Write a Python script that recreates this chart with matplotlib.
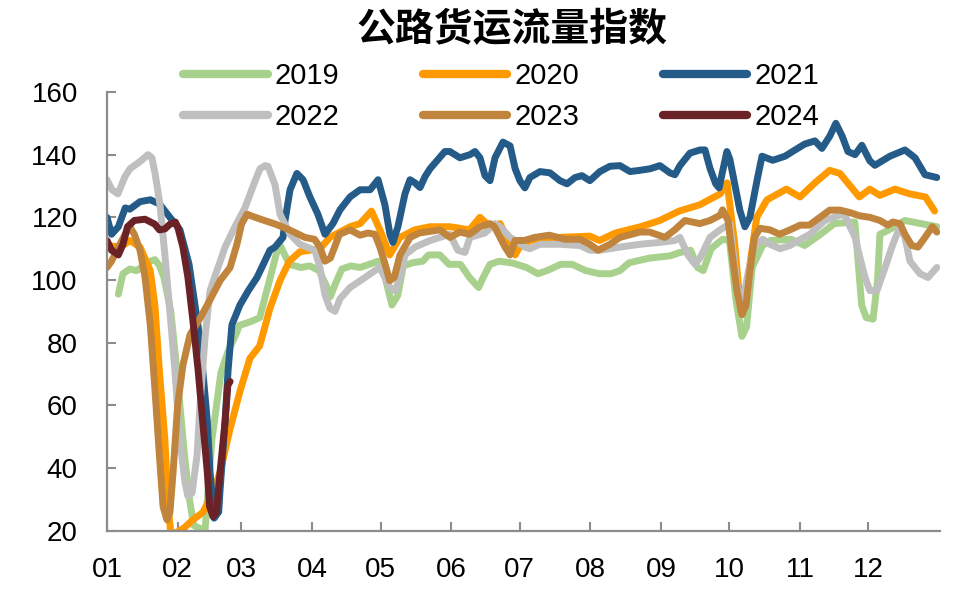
import matplotlib
matplotlib.use("Agg")
import matplotlib.pyplot as plt

plt.rcParams['font.family'] = ['Liberation Sans', 'DejaVu Sans']

title = "公路货运流量指数"
month_labels = ["01", "02", "03", "04", "05", "06", "07", "08", "09", "10", "11", "12"]
month_days = [1, 32, 60, 91, 121, 152, 182, 213, 244, 274, 305, 335]
y_ticks = [20, 40, 60, 80, 100, 120, 140, 160]

days_2019 = [6, 8, 11, 14, 20, 22, 24, 26, 29, 31, 33, 35, 37, 39, 41, 44, 47, 51, 54, 58,
             59, 64, 68, 72.5, 75.5, 77, 79, 81, 86, 90, 94, 97, 99, 101, 104, 108, 112, 116, 120, 123,
             126, 128.5, 131, 135, 139.5, 142, 147, 151, 156, 160, 164, 166, 169, 173, 179, 185, 190, 194, 200, 205,
             211, 217, 222, 226, 230, 239, 248, 252, 257, 260, 262.5, 266, 271, 274, 277, 279.5, 281.5, 284, 288.5, 292,
             301, 307, 314, 320, 329, 330, 332, 334, 337, 339, 340, 344, 351, 358, 365]
vals_2019 = [95.5, 102, 103.5, 103, 106, 106.5, 104.6, 100.8, 90, 76, 60, 44, 31, 21.7, 21, 20, 49, 70.5, 77, 83.4,
             85.5, 86.7, 88, 100.5, 109, 111, 108, 105, 104, 104.5, 103, 98.5, 94.7, 98.5, 103.5, 104.5, 104, 105, 106, 100.8,
             92, 95, 104.5, 105.5, 106, 108, 108, 105, 105, 100.8, 97.6, 100.8, 105, 106, 105.4, 104, 102, 103, 105, 105,
             103, 102, 102, 103, 105.5, 107, 107.7, 108.7, 109.5, 104, 103, 110, 113, 112.6, 93, 82, 85, 104, 111, 112.6,
             113, 111, 114.6, 118, 118.5, 110, 92, 88, 87.5, 100, 114.6, 116, 119, 118, 117]

days_2020 = [1, 7, 11, 15.5, 20, 22, 24, 26.4, 27.8, 29, 31.7, 35, 38.7, 43, 47.5, 50.6, 55, 59.3, 63.7, 68,
             72.5, 77, 81, 85.6, 94.4, 98.8, 107.6, 112, 117, 120.7, 125, 129.5, 136, 142.7, 151.4, 160, 164.6, 169, 173.4, 175.6,
             177.8, 180, 182, 186.5, 199.7, 212.8, 217, 224, 235, 243.5, 252, 261, 270, 273, 276.4, 279, 282, 286, 290.5, 299,
             305, 311.5, 318, 322.5, 327, 331, 335.6, 340, 346.6, 353, 360, 364]
vals_2020 = [111, 110.5, 112.6, 110.5, 103, 92, 71, 49, 28, 19, 19.5, 21, 23.5, 25.8, 32, 38.7, 52.5, 64.4, 75, 79,
             91, 100, 106, 109, 110, 113.6, 117, 118, 122, 116, 108, 113.6, 116, 117, 117, 116, 120, 117, 118, 114.6,
             110.5, 108, 110.5, 112.6, 113.6, 114, 112.6, 115, 117, 119, 122, 124, 127.5, 131, 111, 90, 100, 120, 125.6, 129,
             126.5, 131, 135, 134, 130, 126.5, 129, 127, 129, 127.5, 126.5, 122]

days_2021 = [1, 3, 6, 9, 11, 15.5, 20, 24, 28.6, 33, 37, 41.8, 45, 46.2, 48, 50, 50.6, 52.8, 54.1, 55.8,
             59.3, 63, 66.8, 72.5, 74.7, 78.2, 79.1, 81.3, 84.3, 87, 90, 93.5, 96.6, 100.1, 103.2, 107.6, 112, 116.4, 118.5, 119.9,
             122.9, 125.1, 126.4, 128.6, 131.7, 133.9, 136.1, 138.3, 140.5, 142.7, 149.2, 151.4, 155.8, 160.2, 162.4, 164.6, 166.8, 169, 171.2, 174.7,
             177.8, 180, 182.1, 184.3, 186.5, 190.9, 195.3, 199.7, 202.8, 206.3, 209.3, 212.8, 217.2, 221.6, 226, 230.4, 234.8, 239.2, 243.5, 247.9,
             250.1, 252.3, 256.7, 261.1, 263.3, 265.5, 268, 269.5, 270.7, 272.9, 274.2, 276.4, 278.6, 280.8, 283, 286.1, 288.3, 293, 298.4, 302.8,
             307.1, 311.5, 314.6, 318.1, 320.7, 323.4, 326, 329.1, 332.1, 335.6, 337.8, 344.4, 351, 355.4, 359.8, 365]
vals_2021 = [120, 114.6, 117, 123, 122.6, 125, 125.6, 124.3, 120, 116, 105, 81, 55, 38.7, 24, 26, 33, 55, 71, 85.7,
             92, 96.6, 100.8, 109.5, 110.5, 113.6, 119, 128.8, 134, 132, 126.5, 121, 114.6, 118, 122.4, 126.5, 128.8, 128.8, 130.7, 132,
             124, 114.6, 112, 117, 127.5, 132, 131, 129.5, 133, 135.5, 141, 141, 139, 140, 141, 139, 133.3, 131.7, 139, 144,
             142.8, 135.6, 131.7, 129.4, 132.7, 134.6, 134.2, 131.7, 130.7, 132.7, 133.3, 131.7, 134.6, 136.3, 136.5, 134.6, 135, 135.5, 136.5, 134.2,
             133.6, 136.5, 140.5, 141.5, 141.5, 135.6, 130.7, 129.4, 133.6, 141, 138.5, 130.4, 122.2, 117, 120, 131.7, 139.5, 138.2, 139.5, 141.5,
             143.4, 144.4, 142, 146, 150, 146, 141, 140, 143, 138, 136.6, 139.5, 141.5, 139, 133.6, 132.7]

days_2022 = [1, 3.2, 5.8, 8.9, 11.1, 15.5, 19, 20.7, 22.1, 24.2, 26.4, 28.6, 30.8, 33, 35.2, 36.5, 38.3, 40.5, 41.8, 44,
             46.2, 49.7, 52.8, 57.1, 61.5, 65.9, 68.1, 70.3, 71.6, 74.7, 76.9, 81.3, 85.6, 92.2, 94.4, 96.6, 98.8, 101, 103.2, 107.6,
             114.2, 118.5, 120.7, 125.1, 127.3, 129.5, 131.7, 136.1, 142.7, 151.4, 154.9, 158, 160.2, 166.8, 171.2, 173.4, 177.8, 184.3, 186.5, 190.9,
             199.7, 208.5, 212.8, 217.2, 226, 234.8, 243.5, 250.1, 252.3, 255.8, 258.9, 261.1, 265.5, 269.9, 274.2, 277.3, 279.5, 282.1, 285.2, 288.7,
             291.8, 296.2, 300.6, 302.8, 309.3, 315.9, 322.5, 324.7, 326.9, 329.1, 331.3, 333.5, 335.6, 338.7, 342.3, 345.7, 348.8, 351, 353.2, 357.6,
             361.1, 365]
vals_2022 = [132, 128.8, 127.5, 133, 135.5, 137.8, 140, 139, 134, 124.3, 108, 90, 71, 49, 35.5, 31, 32, 44, 60, 81.5,
             96.6, 104, 110.5, 117, 123, 131.5, 135.5, 136.5, 136.3, 130.4, 121, 114.6, 111.4, 109.5, 104, 95.3, 91, 90, 94, 97.6,
             100.8, 103, 104, 97.6, 96.6, 100.8, 108, 110.5, 112.6, 114.6, 109.5, 108.8, 113.6, 115, 118, 117, 113.6, 110.5, 110, 111.4,
             111.4, 111, 109.5, 109.5, 110.5, 111.4, 112, 112.6, 113.6, 108, 105, 107, 113.6, 116, 118, 98.5, 91, 102, 111.4, 113,
             111.4, 110, 111, 112, 114.6, 119, 120.7, 120.7, 117, 113.6, 107, 100.8, 96.6, 96.6, 104, 111.4, 117, 113.6, 106, 102,
             100.8, 104]

days_2023 = [1, 3, 6, 9, 11, 13, 15.5, 17.7, 20, 22, 24, 25.6, 27.3, 28.6, 30, 32, 34.3, 37.4, 42, 46,
             50.6, 55, 58, 60, 62.4, 66, 70, 75, 81, 87.8, 92, 94.4, 96.6, 99, 103, 107.6, 112, 115.5, 118.5, 120.7,
             123, 125, 127, 129.5, 134, 138, 147, 151.4, 155.8, 160, 164.6, 169, 171, 173.4, 175.6, 177.8, 180, 184, 188.7, 195,
             202, 208.5, 212.8, 216.4, 221.6, 226, 234.8, 239, 245.7, 250, 254.5, 261, 265.5, 270, 271, 273.4, 275, 277.3, 279.5, 281.3,
             283, 285, 287.4, 291.8, 296, 300.6, 305, 309, 313.7, 318, 322.5, 327, 331, 335.6, 340, 343.5, 345.7, 348.8, 351, 354,
             356.7, 359.8, 363, 365]
vals_2023 = [104, 106, 110.5, 114.6, 117, 114.6, 109.5, 100.8, 85.7, 65.4, 44, 27.7, 23.5, 25.8, 38.7, 60, 72.8, 82.5, 88, 93.4,
             99.8, 104, 111.4, 117.8, 121, 120, 119, 117.8, 116, 113.6, 113, 110.5, 106, 107, 114.6, 116, 114.3, 115, 114.6, 110.5,
             105, 99.8, 100.8, 108, 113.6, 115, 116, 113.6, 115.3, 114.6, 117, 118, 117, 113.6, 110.5, 108, 112.6, 112.6, 113.6, 114.3,
             113, 113, 111.4, 109.5, 111.4, 113.6, 115.3, 115.3, 113.6, 116, 119, 118, 119, 120.7, 122.4, 119, 109.5, 96.6, 88.9, 92,
             103, 113.6, 116.5, 116, 114.6, 116, 117.5, 117.5, 120, 122.3, 122.3, 121.5, 120.5, 120, 119, 117.5, 118.5, 118, 114.6, 111,
             110.5, 113.6, 117, 115.3]

days_2024 = [1, 3, 6, 8, 10, 13, 17.7, 22, 24, 26.4, 28.6, 31, 32, 34.3, 36.5, 38.7, 41, 43, 45, 46,
             47.5, 49, 50.6, 52.8, 54, 55]
vals_2024 = [112.6, 109.5, 108, 111.4, 117, 119, 119.4, 117.8, 116, 116.3, 117.8, 118.5, 117, 110.5, 100.8, 87, 71, 54.7, 38.7, 27.7,
             24.5, 25.8, 38.7, 54.7, 66.4, 67.6]

series = [
    ("2019", days_2019, vals_2019, "#A9D18E"),
    ("2020", days_2020, vals_2020, "#FF9900"),
    ("2021", days_2021, vals_2021, "#245B88"),
    ("2022", days_2022, vals_2022, "#BFBFBF"),
    ("2023", days_2023, vals_2023, "#C0843C"),
    ("2024", days_2024, vals_2024, "#6B2226"),
]

fig = plt.figure(figsize=(9.62, 6.0), dpi=100)
ax = fig.add_axes([0.1112, 0.1155, 0.866, 0.7312])

handles = {}
for name, d, v, c in series:
    ln, = ax.plot(d, v, color=c, lw=5.0, solid_capstyle='round', solid_joinstyle='round', label=name)
    handles[name] = ln

ax.set_xlim(1, 366.4)
ax.set_ylim(20, 160)
ax.set_yticks(y_ticks)
ax.set_xticks(month_days)
ax.set_xticklabels(month_labels)

for s in ["top", "right"]:
    ax.spines[s].set_visible(False)
for s in ["left", "bottom"]:
    ax.spines[s].set_color("#8C8C8C")
    ax.spines[s].set_linewidth(1.6)

ax.tick_params(axis='both', direction='in', length=6.5, width=1.5, color="#8C8C8C",
               labelsize=20, labelcolor="black")
ax.tick_params(axis='y', pad=21)
ax.tick_params(axis='x', pad=19)

order = ["2019", "2022", "2020", "2023", "2021", "2024"]
leg = fig.legend([handles[k] for k in order], order, loc='center', bbox_to_anchor=(0.521, 0.839),
                 ncol=3, frameon=False, fontsize=21, handlelength=2.9, handletextpad=0.25,
                 columnspacing=2.85, labelspacing=0.45, borderpad=0.0)
for l in leg.get_lines():
    l.set_linewidth(6.0)
    l.set_solid_capstyle('round')

fig.text(0.532, 0.95, title, ha='center', va='center', fontsize=28, fontweight='bold',
         family=['Noto Sans CJK SC', 'DejaVu Sans'])

fig.savefig("out.png", dpi=100)
